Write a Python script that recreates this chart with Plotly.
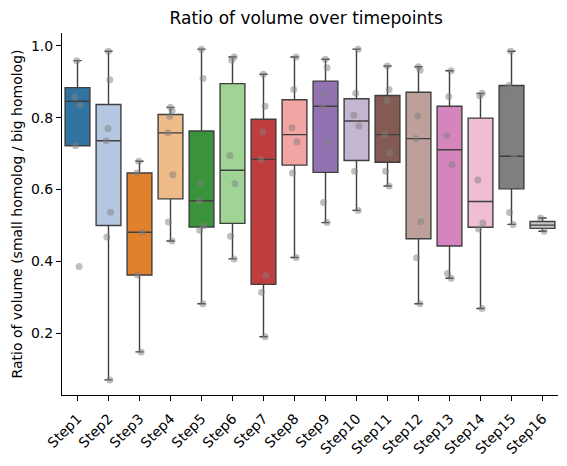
import colorsys
import plotly.graph_objects as go

steps = [f"Step{i}" for i in range(1, 17)]

q1 = [0.722, 0.500, 0.362, 0.574, 0.496, 0.506, 0.336, 0.668, 0.648, 0.681, 0.676, 0.463, 0.443, 0.495, 0.602, 0.492]
median = [0.846, 0.736, 0.481, 0.758, 0.569, 0.654, 0.684, 0.753, 0.832, 0.791, 0.753, 0.742, 0.711, 0.567, 0.693, 0.501]
q3 = [0.884, 0.837, 0.646, 0.809, 0.763, 0.895, 0.796, 0.850, 0.902, 0.853, 0.862, 0.871, 0.832, 0.799, 0.890, 0.511]
lower = [0.722, 0.070, 0.148, 0.457, 0.282, 0.407, 0.190, 0.411, 0.508, 0.542, 0.610, 0.282, 0.353, 0.269, 0.503, 0.484]
upper = [0.959, 0.985, 0.679, 0.829, 0.991, 0.969, 0.921, 0.969, 0.963, 0.991, 0.944, 0.942, 0.931, 0.868, 0.985, 0.521]

points = [
    [0.959, 0.857, 0.835, 0.722, 0.386],
    [0.985, 0.906, 0.770, 0.736, 0.537, 0.468, 0.070],
    [0.679, 0.646, 0.481, 0.362, 0.148],
    [0.829, 0.820, 0.804, 0.758, 0.641, 0.510, 0.457],
    [0.991, 0.909, 0.618, 0.569, 0.499, 0.487, 0.282],
    [0.969, 0.960, 0.695, 0.616, 0.470, 0.407],
    [0.921, 0.832, 0.761, 0.684, 0.361, 0.314, 0.190],
    [0.969, 0.879, 0.772, 0.733, 0.646, 0.411],
    [0.963, 0.939, 0.868, 0.832, 0.733, 0.564, 0.508],
    [0.991, 0.868, 0.807, 0.777, 0.651, 0.542],
    [0.944, 0.879, 0.848, 0.753, 0.703, 0.651, 0.610],
    [0.942, 0.932, 0.805, 0.742, 0.511, 0.410, 0.282],
    [0.931, 0.859, 0.750, 0.670, 0.366, 0.353],
    [0.868, 0.861, 0.627, 0.507, 0.490, 0.269],
    [0.985, 0.890, 0.693, 0.536, 0.503],
    [0.521, 0.484],
]

tab20 = ["#1f77b4", "#aec7e8", "#ff7f0e", "#ffbb78", "#2ca02c", "#98df8a",
         "#d62728", "#ff9896", "#9467bd", "#c5b0d5", "#8c564b", "#c49c94",
         "#e377c2", "#f7b6d2", "#7f7f7f", "#c7c7c7"]


def desaturate(hexc, prop=0.75):
    r, g, b = (int(hexc[i:i + 2], 16) / 255 for i in (1, 3, 5))
    h, l, s = colorsys.rgb_to_hls(r, g, b)
    r, g, b = colorsys.hls_to_rgb(h, l, s * prop)
    return f"rgb({round(r*255)},{round(g*255)},{round(b*255)})"


line_col = "#3f3f3f"
font = "DejaVu Sans"

fig = go.Figure()
for i, s in enumerate(steps):
    fig.add_trace(go.Box(
        x=[s], q1=[q1[i]], median=[median[i]], q3=[q3[i]],
        lowerfence=[lower[i]], upperfence=[upper[i]],
        fillcolor=desaturate(tab20[i]), line=dict(color=line_col, width=1.4),
        width=0.8, whiskerwidth=0.33, boxpoints=False, showlegend=False,
    ))

for i, s in enumerate(steps):
    fig.add_trace(go.Box(
        x=[s] * len(points[i]), y=points[i],
        boxpoints="all", jitter=0.25, pointpos=0, width=0.8,
        fillcolor="rgba(0,0,0,0)", line=dict(width=0, color="rgba(0,0,0,0)"),
        marker=dict(color="rgba(128,128,128,0.5)", size=7),
        showlegend=False,
    ))

fig.update_layout(
    width=567, height=466,
    margin=dict(l=62, r=9, t=33, b=66),
    paper_bgcolor="white", plot_bgcolor="white",
    boxmode="overlay",
    font=dict(family=font, size=14, color="black"),
    title=dict(text="Ratio of volume over timepoints", x=0.54, xanchor="center",
               y=1 - 18 / 466, yref="container", yanchor="middle",
               font=dict(size=17, family=font, color="black")),
)
fig.update_xaxes(
    type="category", categoryorder="array", categoryarray=steps,
    range=[-0.5, 15.5], showline=True, linecolor="black", linewidth=1.1,
    ticks="outside", ticklen=5, tickwidth=1.1, tickcolor="black",
    tickangle=-45, showgrid=False, zeroline=False, ticklabelstandoff=4,
    tickfont=dict(size=14, family=font),
)
fig.update_yaxes(
    range=[0.028, 1.036], showline=True, linecolor="black", linewidth=1.1,
    ticks="outside", ticklen=5, tickwidth=1.1, tickcolor="black",
    tickvals=[0.2, 0.4, 0.6, 0.8, 1.0], ticktext=["0.2", "0.4", "0.6", "0.8", "1.0"],
    showgrid=False, zeroline=False,
    tickfont=dict(size=14, family=font),
    title=dict(text="Ratio of volume (small homolog / big homolog)",
               font=dict(size=14, family=font), standoff=4),
)

fig.write_html("out.html")
